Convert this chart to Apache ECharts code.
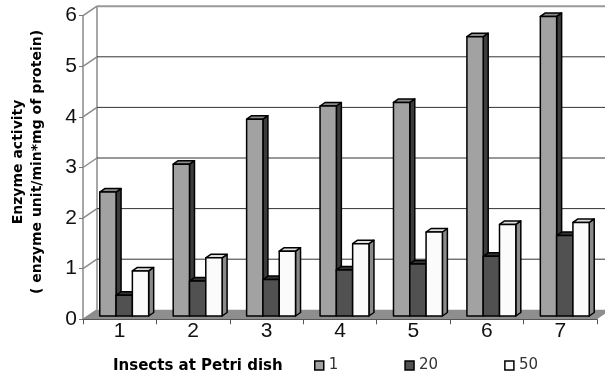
<!DOCTYPE html>
<html>
<head>
<meta charset="utf-8">
<script src="https://cdn.jsdelivr.net/npm/echarts@6/dist/echarts.min.js"></script>
<style>html,body{margin:0;padding:0;background:#fff}#c{width:605px;height:376px}</style>
</head>
<body>
<div id="c"></div>
<script>
// ---- data ----
const categories = ['1', '2', '3', '4', '5', '6', '7'];
const seriesNames = ['1', '20', '50'];
const values1 = [2.45, 3.00, 3.89, 4.15, 4.22, 5.52, 5.92];
const values20 = [0.41, 0.69, 0.72, 0.91, 1.03, 1.18, 1.59];
const values50 = [0.89, 1.15, 1.28, 1.43, 1.66, 1.81, 1.85];
const yTicks = [0, 1, 2, 3, 4, 5, 6];
const xTitle = 'Insects at Petri dish';
const yTitle1 = 'Enzyme activity';
const yTitle2 = '( enzyme unit/min*mg of protein)';

// ---- styling ----
const WALL_DX = 14, WALL_DY = -9.5;   // back wall offset
const PLANE_DX = 4.5, PLANE_DY = -3.3; // bar plane offset
const BAR_DX = 5, BAR_DY = -3.5;       // bar depth
const BAR_FRAC = 0.222;
const palettes = [
  {front: '#a2a2a2', top: '#8a8a8a', side: '#3c3c3c'},
  {front: '#515151', top: '#343434', side: '#2a2a2a'},
  {front: '#fbfbfb', top: '#dedede', side: '#8a8a8a'}
];

const chart = echarts.init(document.getElementById('c'), null, {renderer: 'canvas'});

function wallRender(params, api) {
  const cs = params.coordSys;
  const x0 = cs.x, x1 = cs.x + cs.width;
  const yb = api.coord([0, 0])[1];
  const children = [];
  children.push({type: 'polygon', shape: {points: [[x0, yb], [x1, yb], [x1 + WALL_DX, yb + WALL_DY], [x0 + WALL_DX, yb + WALL_DY]]},
    style: {fill: '#8e8e8e', stroke: null}});
  const yTop = api.coord([0, yTicks[yTicks.length - 1]])[1];
  children.push({type: 'line', shape: {x1: x0 + WALL_DX, y1: yTop + WALL_DY, x2: x0 + WALL_DX, y2: yb + WALL_DY},
    style: {stroke: '#8a8a8a', lineWidth: 1.5}});
  yTicks.forEach(function (t, i) {
    const y = api.coord([0, t])[1];
    const isTop = i === yTicks.length - 1;
    if (t > 0) {
      children.push({type: 'line', shape: {x1: x0 + WALL_DX, y1: y + WALL_DY, x2: x1 + WALL_DX, y2: y + WALL_DY},
        style: {stroke: isTop ? '#999' : '#333', lineWidth: isTop ? 2 : 1}});
    }
    children.push({type: 'line', shape: {x1: x0, y1: y, x2: x0 + WALL_DX, y2: y + WALL_DY},
      style: {stroke: '#8a8a8a', lineWidth: 1.5}});
  });
  return {type: 'group', children: children};
}

function barRender(idx) {
  const pal = palettes[idx];
  return function (params, api) {
    const cat = api.value(0), v = api.value(1);
    const c0 = api.coord([cat, 0]);
    const c1 = api.coord([cat, v]);
    const band = api.size([1, 0])[0];
    const bw = band * BAR_FRAC;
    const cx = c0[0] + PLANE_DX;
    const l = cx - 1.5 * bw + idx * bw, r = l + bw;
    const yb = c0[1] + PLANE_DY, yt = c1[1] + PLANE_DY;
    const st = {stroke: '#000', lineWidth: 1.5, lineJoin: 'round'};
    return {type: 'group', children: [
      {type: 'polygon', shape: {points: [[r, yb], [r + BAR_DX, yb + BAR_DY], [r + BAR_DX, yt + BAR_DY], [r, yt]]},
        style: Object.assign({fill: pal.side}, st)},
      {type: 'polygon', shape: {points: [[l, yt], [r, yt], [r + BAR_DX, yt + BAR_DY], [l + BAR_DX, yt + BAR_DY]]},
        style: Object.assign({fill: pal.top}, st)},
      {type: 'rect', shape: {x: l, y: yt, width: bw, height: yb - yt},
        style: Object.assign({fill: pal.front}, st)}
    ]};
  };
}

const dataSets = [values1, values20, values50];
const barSeries = dataSets.map(function (vals, idx) {
  return {
    type: 'custom', name: seriesNames[idx], z: 3,
    renderItem: barRender(idx),
    itemStyle: {color: palettes[idx].front, borderColor: '#000', borderWidth: 1},
    encode: {x: 0, y: 1},
    data: vals.map(function (v, i) { return [i, v]; })
  };
});

chart.setOption({
  animation: false,
  backgroundColor: '#fff',
  grid: {left: 83, right: 8, top: 15.7, bottom: 56.7},
  xAxis: {
    type: 'category', data: categories, z: 5,
    axisLine: {lineStyle: {color: '#555', width: 1}},
    axisTick: {show: true, length: 5, lineStyle: {color: '#555'}},
    axisLabel: {fontFamily: 'Liberation Sans', fontSize: 21, color: '#111', margin: 1}
  },
  yAxis: {
    type: 'value', min: 0, max: 6, interval: 1,
    axisLine: {show: true, lineStyle: {color: '#8a8a8a', width: 1.5}},
    axisTick: {show: true, length: 4, lineStyle: {color: '#777'}},
    axisLabel: {fontFamily: 'Liberation Sans', fontSize: 21, color: '#111', margin: 6},
    splitLine: {show: false}
  },
  legend: {
    data: seriesNames, left: 314, top: 358, padding: 0, icon: 'rect',
    itemWidth: 9, itemHeight: 9, itemGap: 66, itemTextGap: 18,
    itemStyle: {borderColor: '#000', borderWidth: 1.5},
    textStyle: {fontFamily: 'DejaVu Sans', fontSize: 15, color: '#333'}
  },
  graphic: [
    {type: 'text', x: 113, y: 366, style: {text: xTitle, font: 'bold 15px "DejaVu Sans"', fill: '#000', textVerticalAlign: 'middle'}},
    {type: 'text', x: 18, y: 162, rotation: Math.PI / 2, style: {text: yTitle1, font: 'bold 14px "DejaVu Sans"', fill: '#000', textAlign: 'center', textVerticalAlign: 'middle'}},
    {type: 'text', x: 37, y: 162, rotation: Math.PI / 2, style: {text: yTitle2, font: 'bold 14px "DejaVu Sans"', fill: '#000', textAlign: 'center', textVerticalAlign: 'middle'}}
  ],
  series: [{
    type: 'custom', z: 1, silent: true, renderItem: wallRender,
    encode: {x: 0, y: 1}, data: [[0, 0]]
  }].concat(barSeries)
});
</script>
</body>
</html>
